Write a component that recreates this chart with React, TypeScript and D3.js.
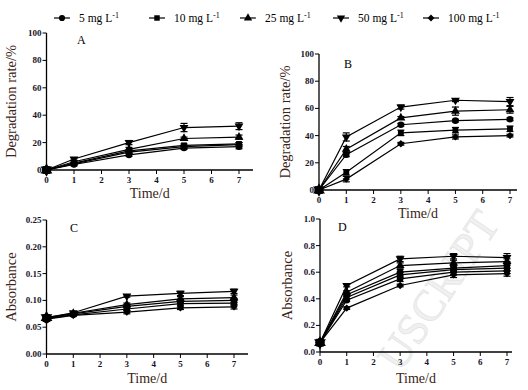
import React from "react";
import * as d3 from "d3";

const days = [0, 1, 3, 5, 7];
const legendLabels = ["5", "10", "25", "50", "100"];
const markerKinds = ["circle", "square", "triangle", "down", "diamond"];

// panel A – degradation rate (%)
const aVals = [
  [0, 4, 11, 16, 17],
  [0, 5, 14, 18, 19],
  [0, 6, 15, 23, 24],
  [0, 8, 20, 31, 32],
  [0, 4.5, 13, 17, 18.5],
];
const aErr = [
  [0, 1, 1, 1, 1.5],
  [0, 1, 1, 1, 1],
  [0, 1, 1.5, 1, 1.5],
  [0, 1, 1.5, 3, 2.5],
  [0, 1, 1, 1, 1.5],
];
// panel B
const bVals = [
  [0, 26, 48, 51, 52],
  [0, 13, 42, 44, 45],
  [0, 30, 53, 58, 59],
  [0, 39, 61, 66, 65],
  [0, 8, 34, 39, 40],
];
const bErr = [
  [0, 1.5, 1, 1, 1],
  [0, 2, 2, 2, 2],
  [0, 2, 1, 3, 2.5],
  [0, 3, 1.5, 1, 3],
  [0, 2, 1, 1.5, 1],
];
// panel C – absorbance
const cVals = [
  [0.066, 0.073, 0.084, 0.094, 0.095],
  [0.067, 0.075, 0.089, 0.098, 0.1],
  [0.068, 0.076, 0.092, 0.103, 0.105],
  [0.068, 0.077, 0.108, 0.113, 0.117],
  [0.065, 0.072, 0.078, 0.086, 0.088],
];
const cErr = [
  [0.003, 0.002, 0.003, 0.003, 0.004],
  [0.003, 0.002, 0.003, 0.003, 0.004],
  [0.003, 0.002, 0.003, 0.004, 0.005],
  [0.003, 0.002, 0.002, 0.004, 0.004],
  [0.003, 0.002, 0.003, 0.003, 0.004],
];
// panel D (six curves in the figure)
const dVals = [
  [0.07, 0.43, 0.6, 0.63, 0.65],
  [0.07, 0.41, 0.58, 0.62, 0.63],
  [0.07, 0.45, 0.65, 0.67, 0.68],
  [0.07, 0.5, 0.7, 0.72, 0.71],
  [0.07, 0.33, 0.5, 0.58, 0.59],
  [0.07, 0.39, 0.55, 0.6, 0.61],
];
const dMarkers = ["circle", "square", "triangle", "down", "diamond", "circle"];
const dErr = [
  [0.01, 0.01, 0.02, 0.02, 0.02],
  [0.01, 0.01, 0.02, 0.02, 0.02],
  [0.01, 0.01, 0.02, 0.02, 0.02],
  [0.01, 0.01, 0.02, 0.02, 0.03],
  [0.01, 0.01, 0.01, 0.02, 0.02],
  [0.01, 0.01, 0.02, 0.02, 0.02],
];

const tickColor = "#14142a";
const titleColor = "#3a2516";
const serif = "'Liberation Serif', 'Times New Roman', serif";

function markerPath(kind: string, size = 34) {
  const t =
    kind === "circle" ? d3.symbolCircle :
    kind === "square" ? d3.symbolSquare :
    kind === "diamond" ? d3.symbolDiamond2 : d3.symbolTriangle;
  return d3.symbol().type(t).size(size)()!;
}

function Marker({ kind, x, y, size }: { kind: string; x: number; y: number; size?: number }) {
  const rot = kind === "down" ? " rotate(180)" : "";
  return <path d={markerPath(kind, size)} transform={`translate(${x},${y})${rot}`} fill="#000" />;
}

function Panel(props: {
  x0: number; x1: number; xEnd: number; yTop: number; yBot: number;
  yMax: number; yStep: number; fmt: (v: number) => string;
  vals: number[][]; errs: number[][]; markers: string[];
  letter: string; lx: number; ly: number; ytitle: string; ytx: number;
  xtitleY: number;
}) {
  const x = d3.scaleLinear().domain([0, 7]).range([props.x0, props.x1]);
  const y = d3.scaleLinear().domain([0, props.yMax]).range([props.yBot, props.yTop]);
  const yTicks = d3.range(0, props.yMax + props.yStep / 2, props.yStep);
  const xTicks = d3.range(0, 8);
  const line = d3.line<number>().x((_, i) => x(days[i])).y(v => y(v));
  return (
    <g>
      {props.vals.map((s, k) => (
        <path key={"l" + k} d={line(s)!} fill="none" stroke="#000" strokeWidth={1.2} />
      ))}
      {props.vals.map((s, k) =>
        s.map((v, i) => {
          const e = props.errs[k][i];
          const cx = x(days[i]);
          return (
            <g key={`e${k}-${i}`} stroke="#000" strokeWidth={1.2}>
              <line x1={cx} x2={cx} y1={y(v - e)} y2={y(v + e)} />
              <line x1={cx - 3.5} x2={cx + 3.5} y1={y(v - e)} y2={y(v - e)} />
              <line x1={cx - 3.5} x2={cx + 3.5} y1={y(v + e)} y2={y(v + e)} />
            </g>
          );
        })
      )}
      {props.vals.map((s, k) =>
        s.map((v, i) => <Marker key={`m${k}-${i}`} kind={props.markers[k]} x={x(days[i])} y={y(v)} size={i === 0 ? 60 : 34} />)
      )}
      {/* axes */}
      <line x1={props.x0} x2={props.x0} y1={props.yTop} y2={props.yBot} stroke="#000" strokeWidth={1.3} />
      <line x1={props.x0} x2={props.xEnd} y1={props.yBot} y2={props.yBot} stroke="#000" strokeWidth={1.3} />
      {yTicks.map(t => (
        <g key={"yt" + t}>
          <line x1={props.x0 - 4} x2={props.x0} y1={y(t)} y2={y(t)} stroke="#000" strokeWidth={1} />
          <text x={props.x0 - 5} y={y(t)} dy="0.33em" textAnchor="end" fontSize={9} fontWeight="bold" fill={tickColor} fontFamily={serif}>
            {props.fmt(t)}
          </text>
        </g>
      ))}
      {xTicks.map(t => (
        <g key={"xt" + t}>
          <line x1={x(t)} x2={x(t)} y1={props.yBot} y2={props.yBot + 4} stroke="#000" strokeWidth={1} />
          <text x={x(t)} y={props.yBot + 13} textAnchor="middle" fontSize={9} fontWeight="bold" fill={tickColor} fontFamily={serif}>
            {t}
          </text>
        </g>
      ))}
      <text x={props.lx} y={props.ly} fontSize={12} fontFamily={serif} fill="#000">{props.letter}</text>
      <text x={(props.x0 + props.xEnd) / 2} y={props.xtitleY} textAnchor="middle" fontSize={14} fontFamily={serif} fill={titleColor}>
        Time/d
      </text>
      <text transform={`translate(${props.ytx},${(props.yTop + props.yBot) / 2}) rotate(-90)`} textAnchor="middle" fontSize={14.5} fontFamily={serif} fill={titleColor}>
        {props.ytitle}
      </text>
    </g>
  );
}

export default function App() {
  const legendX = [62, 157, 248, 341, 431];
  return (
    <svg width={528} height={390} style={{ position: "absolute", left: 0, top: 0, background: "#fff" }}>
      <rect width={528} height={390} fill="#fff" />
      <text transform="translate(438,290) rotate(-56)" textAnchor="middle" dy="0.35em" fontSize={44} fontFamily={serif} fill="#f0f0f0" stroke="#e2e2e2" strokeWidth={0.6}>
        USCRIPT
      </text>
      {legendLabels.map((l, i) => (
        <g key={l}>
          <line x1={legendX[i] - 8} x2={legendX[i] + 8} y1={18} y2={18} stroke="#000" strokeWidth={1.2} />
          <Marker kind={markerKinds[i]} x={legendX[i]} y={18} size={30} />
          <text x={legendX[i] + 17} y={22} fontSize={11.5} fontFamily={serif} fill="#000">
            {l} mg L<tspan dy={-4} fontSize={8}>-1</tspan>
          </text>
        </g>
      ))}
      <Panel x0={46.5} x1={239} xEnd={253} yTop={33} yBot={170} yMax={100} yStep={20} fmt={d3.format("d")}
        vals={aVals} errs={aErr} markers={markerKinds} letter="A" lx={77} ly={44} ytitle="Degradation rate/%" ytx={16} xtitleY={198} />
      <Panel x0={319} x1={510} xEnd={517} yTop={54} yBot={190} yMax={100} yStep={20} fmt={d3.format("d")}
        vals={bVals} errs={bErr} markers={markerKinds} letter="B" lx={344} ly={68} ytitle="Degradation rate/%" ytx={290} xtitleY={218} />
      <Panel x0={46.5} x1={234} xEnd={248} yTop={220} yBot={354} yMax={0.25} yStep={0.05} fmt={d3.format(".2f")}
        vals={cVals} errs={cErr} markers={markerKinds} letter="C" lx={70} ly={232} ytitle="Absorbance" ytx={16} xtitleY={383} />
      <Panel x0={320} x1={507} xEnd={512} yTop={219} yBot={352} yMax={1} yStep={0.2} fmt={d3.format(".1f")}
        vals={dVals} errs={dErr} markers={dMarkers} letter="D" lx={338} ly={231} ytitle="Absorbance" ytx={292} xtitleY={383} />
    </svg>
  );
}
